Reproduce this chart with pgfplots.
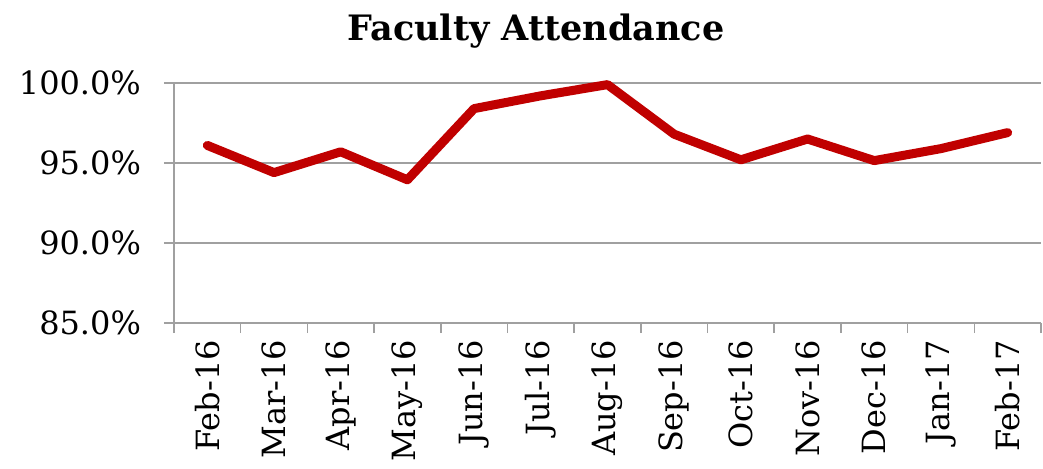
\documentclass[border=0pt]{standalone}
\usepackage{pgfplots}
\pgfplotsset{compat=1.18}
\usepackage{fontspec}
\setmainfont{DejaVu Serif}
\definecolor{linered}{HTML}{C00000}
\definecolor{gridgray}{HTML}{A0A0A0}
\begin{document}
\begin{tikzpicture}
\path[use as bounding box] (-87pt,-72.5pt) rectangle (434.5pt,161.5pt);
\begin{axis}[
  at={(0,0)}, anchor=south west,
  scale only axis,
  width=433.5pt, height=120pt,
  xmin=-0.5, xmax=12.5,
  ymin=85, ymax=100,
  axis lines*=left,
  axis line style={gridgray, line width=0.8pt},
  xtick={0,...,12},
  xticklabels={Feb-16,Mar-16,Apr-16,May-16,Jun-16,Jul-16,Aug-16,Sep-16,Oct-16,Nov-16,Dec-16,Jan-17,Feb-17},
  minor xtick={-0.5,0.5,...,12.5},
  major x tick style={draw=none},
  minor x tick style={gridgray, line width=0.8pt},
  minor tick length=5pt,
  ytick={85,90,95,100},
  yticklabels={85.0\%,90.0\%,95.0\%,100.0\%},
  major y tick style={gridgray, line width=0.8pt},
  major tick length=5pt,
  tick align=outside,
  ymajorgrids,
  major grid style={gridgray, line width=0.8pt},
  x tick label style={rotate=90, anchor=east, font=\fontsize{16}{16}\selectfont},
  y tick label style={font=\fontsize{16}{16}\selectfont, xshift=-8pt},
  clip=false,
]
\addplot[linered, line width=4.5pt, line cap=round, line join=round] coordinates {
(0,96.1) (1,94.4) (2,95.7) (3,93.95) (4,98.4) (5,99.2) (6,99.9) (7,96.8) (8,95.2) (9,96.5) (10,95.15) (11,95.9) (12,96.9)
};
\end{axis}
\node[font=\bfseries\fontsize{17.5}{17.5}\selectfont, anchor=base] at (181pt,141.5pt) {Faculty Attendance};
\end{tikzpicture}
\end{document}
